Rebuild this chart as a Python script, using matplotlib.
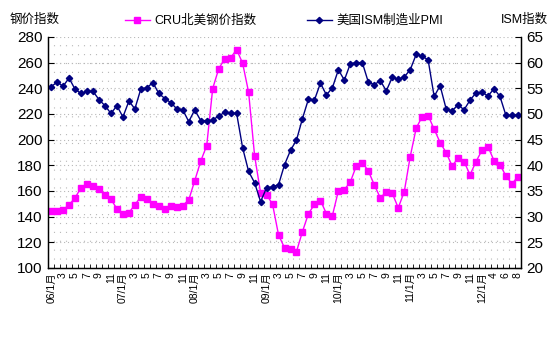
import matplotlib
matplotlib.use("Agg")
import matplotlib.pyplot as plt

# categories: monthly 2006/1 - 2012/8 (2012/2 missing)
months = []
for yr in range(6, 12):
    for m in range(1, 13):
        months.append((yr, m))
months += [(12, m) for m in [1, 3, 4, 5, 6, 7, 8]]
categories = [f"{yr:02d}/{m}月" if m == 1 else str(m) for yr, m in months]

cru_index = [144.4, 144.4, 145.2, 149.1, 154.6, 162.4, 165.5, 164.1, 161.6, 157.1,
             153.5, 146.0, 142.3, 143.1, 149.1, 155.6, 153.8, 150.1, 148.6, 146.2,
             148.6, 147.8, 148.6, 153.0, 168.0, 183.2, 195.3, 239.8, 255.1, 263.1,
             263.9, 270.1, 259.5, 236.9, 187.5, 158.5, 157.1, 149.6, 125.7, 115.6,
             114.8, 112.7, 128.3, 142.3, 149.4, 152.5, 142.3, 140.8, 160.0, 161.0,
             167.0, 179.5, 182.1, 175.6, 164.7, 154.6, 159.2, 158.2, 146.8, 159.2,
             186.7, 208.9, 217.9, 218.7, 208.1, 197.7, 189.9, 179.5, 185.5, 182.9,
             172.5, 182.9, 191.7, 194.5, 183.6, 180.3, 171.7, 165.5, 171.2]

ism_pmi = [55.3, 56.2, 55.4, 57.0, 54.8, 54.0, 54.4, 54.4, 52.8, 51.6,
           50.1, 51.6, 49.4, 52.5, 51.0, 54.9, 55.1, 56.1, 54.0, 53.0,
           52.2, 51.0, 50.8, 48.5, 50.8, 48.7, 48.7, 48.8, 49.6, 50.3,
           50.1, 50.1, 43.4, 38.8, 36.6, 32.9, 35.6, 35.8, 36.2, 40.1,
           42.9, 44.9, 49.1, 52.9, 52.7, 56.0, 53.7, 55.1, 58.6, 56.6,
           59.8, 60.0, 60.0, 56.2, 55.7, 56.5, 54.5, 57.1, 56.8, 57.2,
           58.6, 61.6, 61.3, 60.5, 53.4, 55.5, 51.0, 50.6, 51.8, 50.8,
           52.7, 54.1, 54.2, 53.5, 54.9, 53.4, 49.7, 49.7, 49.7]

left_ticks = list(range(100, 281, 20))
right_ticks = list(range(20, 66, 5))

plt.rcParams["font.family"] = ["Liberation Sans", "Noto Sans CJK SC"]

fig = plt.figure(figsize=(5.53, 3.52), dpi=100)
ax = fig.add_axes([0.087, 0.239, 0.855, 0.656])
ax2 = ax.twinx()

x = list(range(len(categories)))

# grid
for b in range(len(categories) + 1):
    ax.axvline(b - 0.5, color="#b8b8b8", linewidth=0.8, linestyle=(0, (1, 7)), zorder=0)
for t in left_ticks[1:]:
    ax.axhline(t, color="#b8b8b8", linewidth=0.8, linestyle=(0, (1, 2.5)), zorder=0)

ax.plot(x, cru_index, color="#ff00ff", marker="s", markersize=3.8, linewidth=1,
        label="CRU北美钢价指数")
ax2.plot(x, ism_pmi, color="#000080", marker="D", markersize=3.2, linewidth=1,
         label="美国ISM制造业PMI")

ax.set_xlim(-0.5, len(categories) - 0.5)
ax.set_ylim(100, 280)
ax2.set_ylim(20, 65)
ax.set_yticks(left_ticks)
ax2.set_yticks(right_ticks)
ax.tick_params(axis="y", direction="in", length=4, labelsize=11, pad=4)
ax2.tick_params(axis="y", direction="in", length=4, labelsize=11, pad=4)

ax.set_xticks(x[::2])
ax.set_xticklabels(categories[::2], rotation=90, fontsize=7.5)
ax.set_xticks([b - 0.5 for b in range(len(categories) + 1)], minor=True)
ax.tick_params(axis="x", which="major", length=0, pad=3)
ax.tick_params(axis="x", which="minor", direction="in", length=3)

for a in (ax, ax2):
    a.spines["top"].set_visible(False)
    for s in ("left", "right", "bottom"):
        a.spines[s].set_linewidth(0.9)

fig.text(10 / 553, 1 - 20 / 352, "钢价指数", fontsize=9, va="center", ha="left")
fig.text(548 / 553, 1 - 20 / 352, "ISM指数", fontsize=9, va="center", ha="right")

h1, l1 = ax.get_legend_handles_labels()
h2, l2 = ax2.get_legend_handles_labels()
fig.legend(h1 + h2, l1 + l2, ncol=2, loc="center", bbox_to_anchor=(284 / 553, 1 - 21 / 352),
           frameon=False, fontsize=9, handlelength=2.0, columnspacing=4, handletextpad=0.4)

fig.savefig("out.png", dpi=100)
